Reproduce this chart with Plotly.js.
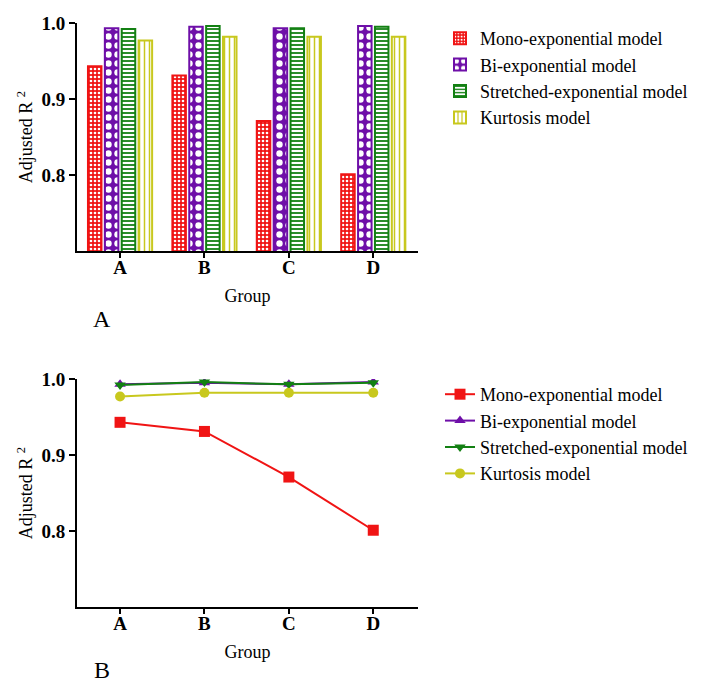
<!DOCTYPE html>
<html>
<head>
<meta charset="utf-8">
<script src="https://cdn.plot.ly/plotly-3.0.1.min.js"></script>
<style>
  html, body { margin: 0; padding: 0; background: #fff; }
  #chart { width: 710px; height: 685px; }
</style>
</head>
<body>
<div id="chart"></div>
<script>
// data
const groups = ['A', 'B', 'C', 'D'];
const monoExp = [0.943, 0.931, 0.871, 0.801];
const biExp = [0.993, 0.995, 0.993, 0.996];
const stretchedExp = [0.992, 0.996, 0.993, 0.995];
const kurtosis = [0.977, 0.982, 0.982, 0.982];
const seriesNames = ['Mono-exponential model', 'Bi-exponential model', 'Stretched-exponential model', 'Kurtosis model'];
const yTicks = [0.8, 0.9, 1.0];
const yTickText = ['0.8', '0.9', '1.0'];

const colors = ['#f01414', '#6e0fa8', '#138013', '#c8c81e'];
const patterns = [
  { shape: '.', fgcolor: '#ffffff', bgcolor: colors[0], size: 4, solidity: 0.35, fillmode: 'replace' },
  { shape: '.', fgcolor: '#ffffff', bgcolor: colors[1], size: 9, solidity: 0.4, fillmode: 'replace' },
  { shape: '-', fgcolor: colors[2], bgcolor: '#ffffff', size: 4, solidity: 0.45, fillmode: 'replace' },
  { shape: '|', fgcolor: colors[3], bgcolor: '#ffffff', size: 5, solidity: 0.3, fillmode: 'replace' }
];
const symbols = ['square', 'triangle-up', 'triangle-down', 'circle'];
const allValues = [monoExp, biExp, stretchedExp, kurtosis];

const serif = 'Liberation Serif';

// top panel: grouped bars
const barTraces = allValues.map((vals, i) => ({
  type: 'bar',
  x: groups,
  y: vals,
  name: seriesNames[i],
  xaxis: 'x',
  yaxis: 'y',
  legend: 'legend',
  marker: {
    color: colors[i],
    pattern: patterns[i],
    line: { color: colors[i], width: 2 }
  }
}));

// bottom panel: lines with markers
const lineTraces = allValues.map((vals, i) => ({
  type: 'scatter',
  mode: 'lines+markers',
  x: groups,
  y: vals,
  name: seriesNames[i],
  xaxis: 'x2',
  yaxis: 'y2',
  legend: 'legend2',
  line: { color: colors[i], width: 2 },
  marker: { color: colors[i], symbol: symbols[i], size: i === 0 ? 11 : 10 }
}));

const xAxisBase = {
  type: 'category',
  range: [-0.51, 3.53],
  showline: true,
  linecolor: '#000',
  linewidth: 2,
  ticks: 'outside',
  ticklen: 5,
  tickwidth: 2,
  tickcolor: '#000',
  ticklabelstandoff: -7,
  showgrid: false,
  zeroline: false,
  tickfont: { family: serif, size: 19, color: '#000', weight: 'bold' },
  title: { text: 'Group', font: { family: serif, size: 18, color: '#000' }, standoff: 13 }
};

const yAxisBase = {
  range: [0.7, 1.0],
  tickvals: yTicks,
  ticktext: yTickText,
  showline: true,
  linecolor: '#000',
  linewidth: 2,
  ticks: 'outside',
  ticklen: 6,
  tickwidth: 2,
  tickcolor: '#000',
  showgrid: false,
  zeroline: false,
  tickfont: { family: serif, size: 19, color: '#000', weight: 'bold' },
  title: { text: 'Adjusted R <sup>2</sup>', font: { family: serif, size: 18, color: '#000' }, standoff: 4 }
};

const legendBase = {
  x: 440 / 710,
  xanchor: 'left',
  yanchor: 'top',
  bgcolor: 'rgba(0,0,0,0)',
  font: { family: serif, size: 18, color: '#000' },
  tracegroupgap: 0,
  itemwidth: 30
};

const layout = {
  width: 710,
  height: 685,
  margin: { l: 0, r: 0, t: 0, b: 0 },
  font: { family: serif },
  paper_bgcolor: '#fff',
  plot_bgcolor: '#fff',
  barmode: 'group',
  bargap: 0.2,
  bargroupgap: 0.2,
  showlegend: true,
  xaxis: { ...xAxisBase, domain: [77 / 710, 418 / 710], anchor: 'y' },
  yaxis: { ...yAxisBase, domain: [(685 - 251) / 685, (685 - 23) / 685], anchor: 'x' },
  xaxis2: { ...xAxisBase, domain: [77 / 710, 418 / 710], anchor: 'y2' },
  yaxis2: { ...yAxisBase, domain: [(685 - 607) / 685, (685 - 379) / 685], anchor: 'x2' },
  legend: { ...legendBase, y: 1 - 20 / 685 },
  legend2: { ...legendBase, y: 1 - 376 / 685 },
  annotations: [
    { text: 'A', x: 102 / 710, y: 1 - 319 / 685, xref: 'paper', yref: 'paper', showarrow: false,
      xanchor: 'center', yanchor: 'middle', font: { family: serif, size: 24, color: '#000' } },
    { text: 'B', x: 102 / 710, y: 1 - 670 / 685, xref: 'paper', yref: 'paper', showarrow: false,
      xanchor: 'center', yanchor: 'middle', font: { family: serif, size: 24, color: '#000' } }
  ]
};

Plotly.newPlot('chart', [...barTraces, ...lineTraces], layout, { displayModeBar: false, staticPlot: true });
</script>
</body>
</html>
